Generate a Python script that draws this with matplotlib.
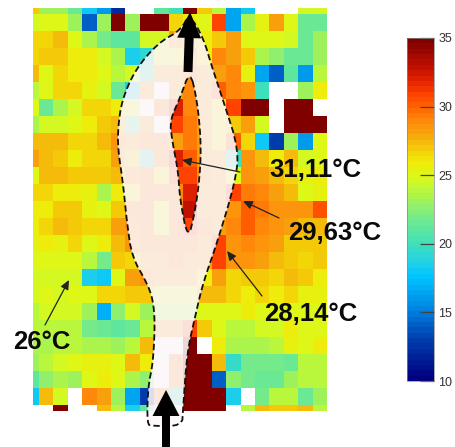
import numpy as np
import matplotlib
matplotlib.use("Agg")
import matplotlib.pyplot as plt
from matplotlib.colors import LinearSegmentedColormap
from matplotlib.path import Path
from matplotlib.patches import PathPatch

n = np.nan
temps = np.array([
 [27,23,23,21.5,18,16,12,n,n,21,20,35,27,24,16.5,18,n,n,n,24.5,24.5],
 [24.5,25,25,23,14,23,35,23,35,35,26.5,26,25,31,16.5,23.5,25.5,28,25,21.5,21.5],
 [26.5,26.5,27.5,25,23.5,22,21,21,24.5,24.5,28,27,26,27,28,25,25,25,24.5,21.5,23],
 [26.5,27,27,26,26,24.5,23.5,18.5,19,25,25.5,28,26,29,28,27,23.5,22.5,21.5,21.5,23],
 [27.5,25,26.5,26,26,25,24,24.5,20,28,28,29,28,28,29,25.5,16.5,14,21,16,24],
 [24,25,26.5,26.5,25.5,24.5,21.5,18.5,28,n,28,29,28,30,29,28.5,20,n,n,23,26],
 [25,21.5,23.5,24.5,26.5,26.5,26,25.5,n,29,32,29,28,26,31,35,35,n,35,35,n],
 [23.5,24.5,24.5,25,26,27,27.5,21,28,n,31,29.5,28,26,27,28,24.5,n,35,35,35],
 [27.5,27.5,27.5,26.5,26.5,27.5,28.5,28,29,29,28,29.5,28,26,30,26.5,18,13,23,16,25],
 [28,27.5,27,26,26.5,26.5,28,27,20,29,32,30,28,28,20,28.5,27.5,26,27.5,24.5,25],
 [25,27.5,27.5,27,27,27,27.5,28.5,29,26,31,31,28.5,28,25,28.5,28,27.5,26.5,25.5,26],
 [26.5,26.5,26,26,25.5,23.5,26,26,29,29,29,32,28,28,31,29.5,29,28,27.5,25,25.5],
 [26,26,27,27,25.5,25,27,29,29,25.5,29,33,28,28,28.5,30,29.5,28.5,28.5,28.5,30.5],
 [26,26.5,27.5,27,26.5,26.5,28,28.5,29,25,29,31,29,28,29,30,29,28.5,28,27.5,27.5],
 [25.5,26,25.5,26.5,25,26,27.5,28.5,29,29,29,29,28,31,28.5,29,28.5,28,27,27,27],
 [25,25,25,25,24,22,27,26.5,28,28,29,28,28,31,28.5,28.5,28,27.5,27,26.5,27],
 [24.5,24.5,24.5,24.5,18.5,18,25,28,28.5,28,28,28,26,28,26.5,27,27,26.5,27.5,27,26],
 [24.5,25,24.5,25,25,26.5,26.5,27,27,25,25,25,27.5,27.5,26.5,26,26.5,26,26.5,25.5,25.5],
 [24,24.5,24.5,24.5,23,17,22.5,24.5,23,24,24,24,25,25,25,26,25,25,25,25,25],
 [24,24,24,24,22,21.5,21,21.5,24,28,28,31,27,25,24,24,24.5,24.5,26,25,25],
 [23.5,23.5,24,24,23.5,23.5,23,24,27.5,n,n,35,n,26,23.5,23.5,23.5,24,25.5,25,26],
 [23,24,24.5,25,25.5,25.5,25,27.5,26,n,29,35,35,27.5,19.5,22,22,22,21.5,24,24],
 [21,22.5,23.5,23,25,26,25,23.5,22.5,n,29,35,35,14,22.5,22,21.5,21.5,23,24,24],
 [18,27.5,24.5,n,29,28,23,16.5,13,29,20,35,35,35,18.5,n,22,24,24,21.5,23],
 [n,n,35,n,n,27.5,24,18.5,21,n,n,35,35,35,n,24,27.5,27,27,27.5,24],
])
scale_min, scale_max = 10, 35
scale_ticks = [10, 15, 20, 25, 30, 35]
labels = ["31,11°C", "29,63°C", "28,14°C", "26°C"]
palette_values = [10, 13, 15, 17.5, 18.5, 20, 22, 24, 25, 26, 27, 28, 29, 30, 31, 32, 33, 35]
palette_colors = ["#000080", "#0040b0", "#0080e0", "#00c4ff", "#20d0e8", "#40e0b8", "#78ea88",
                  "#bcf838", "#def818", "#f0ea08", "#f4cc08", "#f6a80c", "#ff8a0c", "#ff6600",
                  "#ff4400", "#e42400", "#c01000", "#800000"]


def smooth(points, passes=3):
    p = np.asarray(points, float)
    for _ in range(passes):
        q = np.roll(p, -1, axis=0)
        p = np.column_stack([0.75 * p + 0.25 * q, 0.25 * p + 0.75 * q]).reshape(-1, 2)
    return p


fig = plt.figure(figsize=(4.55, 4.47), dpi=100)
ax = fig.add_axes([0, 0, 1, 1])
ax.set_xlim(0, 455)
ax.set_ylim(447, 0)
ax.axis("off")

stops = [(v - scale_min) / (scale_max - scale_min) for v in palette_values]
cmap = LinearSegmentedColormap.from_list("thermal", list(zip(stops, palette_colors)), N=64)
cmap.set_bad("white")
xedges = np.r_[33, 39 + 14.4 * np.arange(21)]
yedges = np.r_[7.5, 14 + 17 * np.arange(24), 411]
mesh = ax.pcolormesh(xedges, yedges, np.ma.masked_invalid(temps), cmap=cmap,
                     vmin=scale_min, vmax=scale_max, antialiased=False, zorder=1)

outer = smooth([(189, 14), (181, 30), (158, 43), (135, 70), (122, 100), (118, 127), (118, 150),
                (123, 183), (127, 223), (132, 257), (147, 283), (153, 300), (155, 323),
                (153, 363), (148, 387), (147, 424), (152, 426), (182, 426), (183, 410),
                (187, 353), (195, 317), (203, 283), (217, 243), (235, 183), (239, 150),
                (223, 100), (212, 67), (203, 37)], 2)
inner = smooth([(190, 70), (197, 100), (201, 140), (200, 175), (195, 212), (188, 240),
                (180, 200), (178, 170), (172, 140), (170, 120), (180, 98)], 2)
verts = np.r_[outer, outer[:1], inner, inner[:1]]
codes = np.r_[[Path.MOVETO], [Path.LINETO] * len(outer), [Path.MOVETO], [Path.LINETO] * len(inner)]
ax.add_patch(PathPatch(Path(verts, codes), facecolor=(0.99, 0.97, 0.98), alpha=0.87,
                       edgecolor="none", zorder=2))
for ring in (outer, inner):
    closed = np.r_[ring, ring[:1]]
    ax.plot(closed[:, 0], closed[:, 1], color="#111111", lw=1.3, ls=(0, (3.5, 1.8)), zorder=3)

# large flow arrows
ax.arrow(188, 72, 2, -60, width=9, head_width=24, head_length=26,
         length_includes_head=True, color="black", lw=0, zorder=5)
ax.arrow(166, 447, 0, -57, width=8, head_width=27, head_length=26,
         length_includes_head=True, color="black", lw=0, zorder=5)

# thin pointers
for head, tail in [((182, 160), (240, 172)), ((243, 201), (279, 218)),
                   ((227, 251), (262, 296)), ((69, 280), (45, 325))]:
    ax.annotate("", xy=head, xytext=tail, zorder=4,
                arrowprops=dict(arrowstyle="-|>,head_length=0.55,head_width=0.25",
                                color="#222222", lw=0.9, shrinkA=0, shrinkB=0))

for txt, x, y in zip(labels, [269, 288, 264, 13], [170, 233, 314, 342]):
    ax.text(x, y, txt, fontsize=18.5, fontweight="bold", family="Liberation Sans",
            color="#0a0a0a", va="center", ha="left", zorder=6)

cax = fig.add_axes([407 / 455, 1 - 381 / 447, 27 / 455, 343 / 447])
cb = fig.colorbar(mesh, cax=cax)
cb.set_ticks(scale_ticks)
cb.ax.tick_params(direction="in", length=10, width=0.9, color="#444444", pad=3,
                  labelsize=9, labelcolor="#333333")
for t in cb.ax.get_yticklabels():
    t.set_family("Liberation Sans")
cb.outline.set_edgecolor("#888888")
cb.outline.set_linewidth(0.5)

fig.savefig("out.png", dpi=100)
